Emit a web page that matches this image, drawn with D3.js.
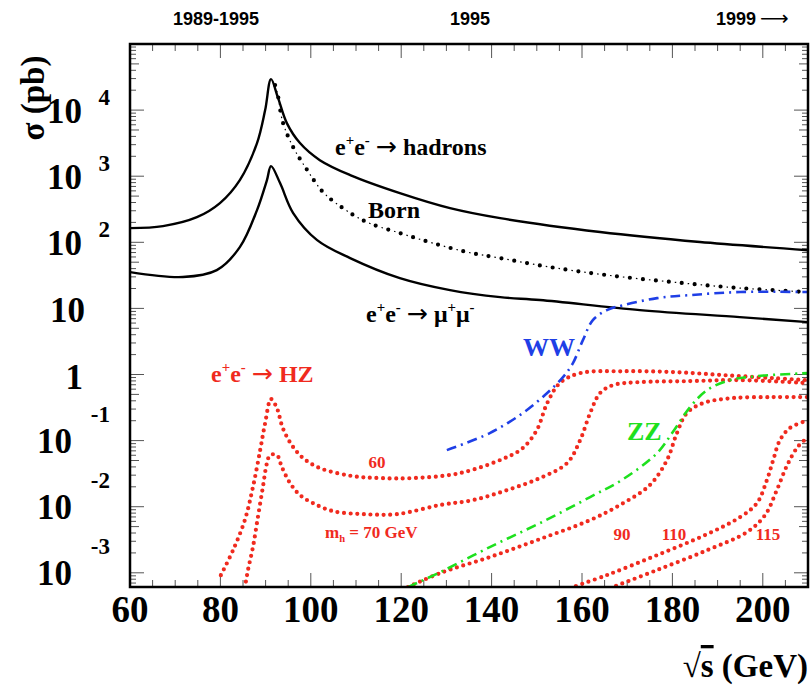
<!DOCTYPE html>
<html lang="en">
<head>
<meta charset="UTF-8" />
<title>e+e- cross sections</title>
<script src="https://d3js.org/d3.v7.min.js"></script>
<style>
  body { margin: 0; background: #fff; }
  text { font-family: "Liberation Serif", "Times New Roman", serif; font-weight: bold; }
  text.sans { font-family: "Liberation Sans", Arial, sans-serif; }
  tspan.arrow { font-family: "DejaVu Sans", sans-serif; font-weight: normal; }
</style>
</head>
<body>
<script>
// energies (GeV) and cross sections (pb)
const hadE  = [60, 67.3, 74.8, 79.9, 84.3, 88.1, 89.9, 91.2, 92.7, 94.7, 97.6, 102, 108.7, 119.7, 130.8, 141.9, 164, 186.1, 210];
const hadXs = [164, 176, 240, 392, 873, 3170, 10000, 29400, 15700, 6350, 3170, 1750, 1040, 555, 329, 232, 143, 101, 76];

const mumuE  = [60, 71.7, 79.2, 84.3, 88.1, 90.3, 91.2, 93.2, 96.1, 101.4, 108.7, 119.7, 130.8, 141.9, 150.7, 172.8, 194.9, 210];
const mumuXs = [35.4, 29.8, 37.9, 84.5, 307, 873, 1420, 787, 277, 108, 57.7, 28.7, 18.9, 14.8, 13.4, 9.42, 7.38, 6.21];

const bornE  = [92.1, 92.7, 93.8, 96.1, 99.2, 102.7, 107.1, 112.4, 119.7, 127, 134.6, 141.9, 152.9, 165.5, 180.1, 195, 210];
const bornXs = [23900, 16900, 6580, 2750, 1240, 575, 329, 202, 138, 97.3, 71.1, 57.7, 42.2, 31.9, 25.0, 20.3, 17.7];

const wwE  = [130.1, 139.6, 146.9, 152.3, 155.8, 158.0, 160.2, 162.4, 165.5, 169.1, 176.6, 183.9, 195, 210];
const wwXs = [0.0718, 0.130, 0.261, 0.524, 0.914, 1.49, 3.31, 6.65, 9.42, 11.2, 14.3, 15.9, 17.7, 17.7];

const zzE  = [121.5, 128.6, 139.6, 150.7, 161.8, 169.1, 176.6, 180.1, 183.9, 187.7, 192.7, 198.7, 210];
const zzXs = [6.08e-4, 1.02e-3, 2.45e-3, 5.65e-3, 0.0140, 0.0261, 0.0647, 0.135, 0.321, 0.581, 0.822, 0.946, 1.05];

const hz60E  = [80.1, 82.8, 85.4, 87.2, 88.8, 89.9, 91.2, 92.5, 93.8, 95.8, 98.3, 102, 109.3, 115.3, 122.6, 133, 143.4, 146.9, 150, 152.3, 155.1, 159.6, 169.1, 180.1, 191.2, 202.3, 210];
const hz60Xs = [9.2e-4, 2.2e-3, 6.26e-3, 0.0198, 0.0718, 0.184, 0.425, 0.310, 0.155, 0.0855, 0.0543, 0.0384, 0.0290, 0.0271, 0.0271, 0.0322, 0.0562, 0.0771, 0.144, 0.369, 0.741, 1.05, 1.12, 1.09, 0.98, 0.88, 0.82];

const hz70E  = [85.4, 86.1, 87.2, 88.3, 89.4, 90.3, 91.0, 92.5, 93.6, 95.4, 97.6, 100.5, 104.9, 111.5, 119.1, 128.6, 135.9, 143.4, 150.7, 156.7, 159.6, 161.8, 164, 166.9, 172.8, 183.9, 195, 210];
const hz70Xs = [5.87e-4, 1.10e-3, 2.45e-3, 6.97e-3, 0.0198, 0.0457, 0.0604, 0.0604, 0.0397, 0.0228, 0.0150, 0.0113, 8.57e-3, 7.73e-3, 7.73e-3, 0.0106, 0.0126, 0.0178, 0.0271, 0.0457, 0.102, 0.261, 0.524, 0.692, 0.767, 0.794, 0.822, 0.741];

const hz90E  = [121.5, 128.6, 139.6, 150.7, 161.8, 169.1, 175, 178.8, 181, 183.2, 186.8, 193.4, 202.3, 210];
const hz90Xs = [6.08e-4, 9.89e-4, 1.73e-3, 3.24e-3, 6.27e-3, 0.0113, 0.0212, 0.0507, 0.130, 0.261, 0.369, 0.440, 0.455, 0.455];

const hz110E  = [157.3, 165.5, 176.6, 187.7, 195, 198.7, 200.9, 202.3, 203.8, 206, 210];
const hz110Xs = [5.87e-4, 9.23e-4, 1.85e-3, 3.85e-3, 6.97e-3, 0.0113, 0.0252, 0.0507, 0.102, 0.155, 0.204];

const hz115E  = [166.2, 176.6, 187.7, 196.5, 200.5, 203.1, 205.4, 207.7, 210];
const hz115Xs = [5.87e-4, 1.10e-3, 2.20e-3, 4.13e-3, 7.46e-3, 0.0178, 0.0426, 0.0798, 0.113];

const xTickLabels = [60, 80, 100, 120, 140, 160, 180, 200];
const yTickExps = [-3, -2, -1, 0, 1, 2, 3, 4];
const periodLabels = ["1989-1995", "1995", "1999"];
const periodPos = [216, 470, 736];

const W = 811, H = 689;
const frame = { left: 130, right: 808, top: 44, bottom: 587 };

const svg = d3.select("body").append("svg")
  .attr("width", W).attr("height", H);

const x = d3.scaleLinear().domain([60, 210]).range([frame.left, frame.right]);
const y = d3.scaleLog().domain([6.1e-4, 1e5]).range([frame.bottom, frame.top]);

svg.append("clipPath").attr("id", "plotclip")
  .append("rect")
  .attr("x", frame.left).attr("y", frame.top)
  .attr("width", frame.right - frame.left).attr("height", frame.bottom - frame.top);

// ticks
const tickG = svg.append("g").attr("stroke", "#555").attr("stroke-width", 1);
d3.range(60, 211, 5).forEach(v => {
  const len = v % 20 === 0 ? 14 : 7;
  tickG.append("line").attr("x1", x(v)).attr("x2", x(v)).attr("y1", frame.bottom).attr("y2", frame.bottom - len);
  tickG.append("line").attr("x1", x(v)).attr("x2", x(v)).attr("y1", frame.top).attr("y2", frame.top + len);
});
for (let d = -4; d <= 4; d++) {
  for (let m = 1; m <= 9; m++) {
    const v = m * Math.pow(10, d);
    if (v < y.domain()[0] || v > y.domain()[1]) continue;
    const len = m === 1 ? 14 : (m === 5 ? 9 : 6);
    tickG.append("line").attr("x1", frame.left).attr("x2", frame.left + len).attr("y1", y(v)).attr("y2", y(v));
    tickG.append("line").attr("x1", frame.right).attr("x2", frame.right - len).attr("y1", y(v)).attr("y2", y(v));
  }
}

// curves
const line = d3.line()
  .x(d => x(d[0]))
  .y(d => y(d[1]))
  .curve(d3.curveCatmullRom.alpha(0.5));
const pts = (es, xs) => es.map((e, i) => [e, xs[i]]);

const curves = svg.append("g").attr("clip-path", "url(#plotclip)").attr("fill", "none");

curves.append("path").attr("d", line(pts(hadE, hadXs)))
  .attr("stroke", "#000").attr("stroke-width", 2.4);
curves.append("path").attr("d", line(pts(mumuE, mumuXs)))
  .attr("stroke", "#000").attr("stroke-width", 2.4);

// Born: big dots with small dots in between
curves.append("path").attr("d", line(pts(bornE, bornXs)))
  .attr("stroke", "#000").attr("stroke-width", 4.2)
  .attr("stroke-linecap", "round").attr("stroke-dasharray", "0 13");
curves.append("path").attr("d", line(pts(bornE, bornXs)))
  .attr("stroke", "#000").attr("stroke-width", 1.2)
  .attr("stroke-dasharray", "1.5 11.5").attr("stroke-dashoffset", -6);

const red = "#f02a1e";
[[hz60E, hz60Xs], [hz70E, hz70Xs], [hz90E, hz90Xs], [hz110E, hz110Xs], [hz115E, hz115Xs]].forEach(([es, xs]) => {
  curves.append("path").attr("d", line(pts(es, xs)))
    .attr("stroke", red).attr("stroke-width", 4.2)
    .attr("stroke-linecap", "round").attr("stroke-dasharray", "0 6.6");
});

curves.append("path").attr("d", line(pts(zzE, zzXs)))
  .attr("stroke", "#1ee01e").attr("stroke-width", 2.6)
  .attr("stroke-dasharray", "10 5 2 5");
curves.append("path").attr("d", line(pts(wwE, wwXs)))
  .attr("stroke", "#1f3fe6").attr("stroke-width", 2.6)
  .attr("stroke-dasharray", "10 5 2 5");

// frame
svg.append("rect")
  .attr("x", frame.left).attr("y", frame.top)
  .attr("width", frame.right - frame.left).attr("height", frame.bottom - frame.top)
  .attr("fill", "none").attr("stroke", "#000").attr("stroke-width", 2.5);

// rich text helper: parts = [[text, "sup"|"sub"|"arrow"|""], ...]
function rich(xp, yp, parts, size, color, anchor) {
  const t = svg.append("text").attr("x", xp).attr("y", yp)
    .attr("font-size", size).attr("fill", color || "#000")
    .attr("text-anchor", anchor || "start");
  let shift = 0;
  parts.forEach(([s, kind]) => {
    const target = kind === "sup" ? -0.42 * size : kind === "sub" ? 0.25 * size : 0;
    const ts = t.append("tspan")
      .attr("dy", target - shift)
      .attr("font-size", kind === "sup" || kind === "sub" ? size * 0.62 : size)
      .text(s);
    if (kind === "arrow") ts.attr("class", "arrow").attr("font-size", size * 1.05);
    shift = target;
  });
  return t;
}

// axis tick labels
xTickLabels.forEach(v => {
  svg.append("text").attr("x", x(v)).attr("y", 622)
    .attr("text-anchor", "middle").attr("font-size", 37).text(v);
});
yTickExps.forEach(d => {
  const ty = y(Math.pow(10, d));
  if (d === 0) {
    svg.append("text").attr("x", 83).attr("y", ty + 14).attr("text-anchor", "end").attr("font-size", 35).text("1");
  } else if (d === 1) {
    svg.append("text").attr("x", 85).attr("y", ty + 14).attr("text-anchor", "end").attr("font-size", 35).text("10");
  } else if (d > 1) {
    svg.append("text").attr("x", 82).attr("y", ty + 13).attr("text-anchor", "end").attr("font-size", 35).text("10");
    svg.append("text").attr("x", 110).attr("y", ty - 5).attr("text-anchor", "end").attr("font-size", 23).text(d);
  } else {
    svg.append("text").attr("x", 72).attr("y", ty + 12).attr("text-anchor", "end").attr("font-size", 35).text("10");
    svg.append("text").attr("x", 110).attr("y", ty - 19).attr("text-anchor", "end").attr("font-size", 23).text(d);
  }
});

// axis titles
svg.append("text")
  .attr("transform", "translate(44,98) rotate(-90)")
  .attr("text-anchor", "middle").attr("font-size", 33)
  .text("\u03c3 (pb)");
const xt = svg.append("text").attr("x", 808).attr("y", 677)
  .attr("text-anchor", "end").attr("font-size", 33);
xt.append("tspan").text("\u221a");
xt.append("tspan").attr("text-decoration", "overline").text("s");
xt.append("tspan").text(" (GeV)");

// period labels on top
periodLabels.forEach((s, i) => {
  svg.append("text").attr("class", "sans").attr("x", periodPos[i]).attr("y", 25)
    .attr("text-anchor", "middle").attr("font-size", 18).text(s);
});
svg.append("text").attr("x", 760).attr("y", 25)
  .append("tspan").attr("class", "arrow").attr("font-size", 20).text("\u27f6");

// curve labels
const ee = [["e", ""], ["+", "sup"], ["e", ""], ["-", "sup"], [" ", ""], ["\u2192", "arrow"], [" ", ""]];
rich(335, 155, ee.concat([["hadrons", ""]]), 24);
rich(368, 218, [["Born", ""]], 24);
rich(366, 322, ee.concat([["\u03bc", ""], ["+", "sup"], ["\u03bc", ""], ["-", "sup"]]), 24);
rich(523, 356, [["WW", ""]], 26, "#1f3fe6");
rich(211, 382, ee.concat([["HZ", ""]]), 24, red);
rich(627, 440, [["ZZ", ""]], 26, "#1ee01e");
rich(377, 468, [["60", ""]], 17, red, "middle");
rich(325, 538, [["m", ""], ["h", "sub"], [" = 70 GeV", ""]], 17, red);
rich(622, 540, [["90", ""]], 17, red, "middle");
rich(674, 540, [["110", ""]], 17, red, "middle");
rich(768, 540, [["115", ""]], 17, red, "middle");
</script>
</body>
</html>
